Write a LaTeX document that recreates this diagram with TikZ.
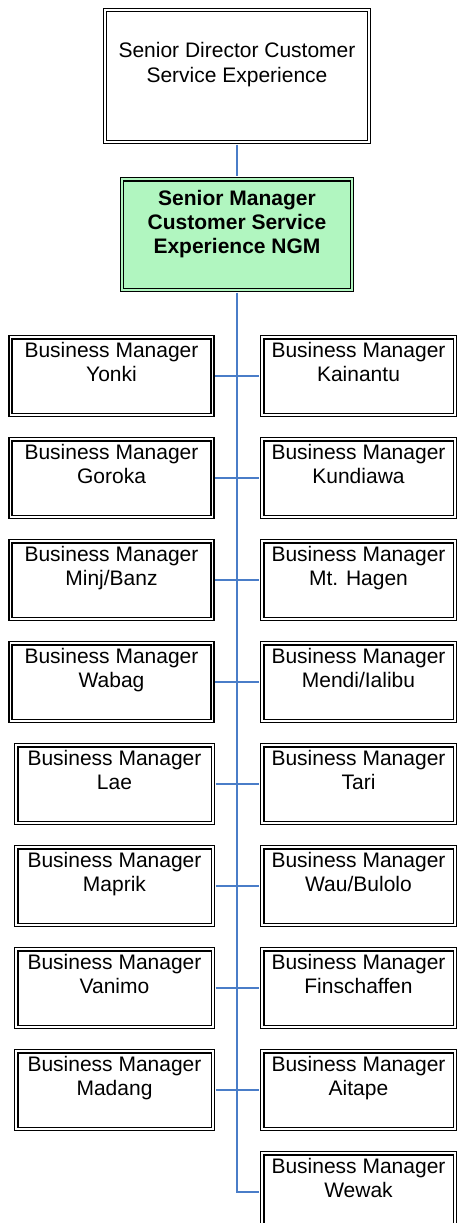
\documentclass[tikz,border=0pt]{standalone}
\usepackage{fontspec}
\setmainfont{Liberation Sans}
\usepackage{tikz}
\definecolor{linkblue}{HTML}{4A7DC8}
\definecolor{mint}{HTML}{B1F6C0}

\begin{document}
\begin{tikzpicture}[x=1pt, y=-1pt,
        font=\fontsize{21}{24.5}\selectfont,
        box/.style={draw, double, line width=1.3pt, double distance=1.8pt, align=center, inner ysep=0pt},
        bm/.style={box, minimum width=202pt, minimum height=77.4pt, text height=44.4pt, text depth=33pt},
        bmnarrow/.style={bm, minimum width=196.4pt},
        bmright/.style={bm, minimum width=192.4pt},
        link/.style={draw=linkblue, line width=1.5pt, shorten <=2.2pt, shorten >=2.2pt}]
        \useasboundingbox (0, 0) rectangle (458, 1223);

        \draw (237, 76) node[box, minimum width=263.5pt, minimum height=131.4pt, text height=71.7pt, text depth=59.7pt] (director) {Senior Director Customer\\Service Experience};
        \draw (237, 234.5) node[box, fill=mint, double=mint, minimum width=230.4pt, minimum height=110.4pt, text height=74pt, text depth=36.4pt, font=\fontsize{21}{24}\selectfont\bfseries] (ngm) {Senior Manager\\Customer Service\\Experience NGM};

        \draw (111.5, 376) node[bm] (yonki) {Business Manager\\Yonki};
        \draw (111.5, 478) node[bm] (goroka) {Business Manager\\Goroka};
        \draw (111.5, 580) node[bm] (minj) {Business Manager\\Minj/Banz};
        \draw (111.5, 682) node[bm] (wabag) {Business Manager\\Wabag};
        \draw (114.5, 784) node[bmnarrow] (lae) {Business Manager\\Lae};
        \draw (114.5, 886) node[bmnarrow] (maprik) {Business Manager\\Maprik};
        \draw (114.5, 988) node[bmnarrow] (vanimo) {Business Manager\\Vanimo};
        \draw (114.5, 1090) node[bmnarrow] (madang) {Business Manager\\Madang};

        \draw (358.5, 376) node[bmright] (kainantu) {Business Manager\\Kainantu};
        \draw (358.5, 478) node[bmright] (kundiawa) {Business Manager\\Kundiawa};
        \draw (358.5, 580) node[bmright] (hagen) {Business Manager\\Mt. Hagen};
        \draw (358.5, 682) node[bmright] (mendi) {Business Manager\\Mendi/Ialibu};
        \draw (358.5, 784) node[bmright] (tari) {Business Manager\\Tari};
        \draw (358.5, 886) node[bmright] (wau) {Business Manager\\Wau/Bulolo};
        \draw (358.5, 988) node[bmright] (finsch) {Business Manager\\Finschaffen};
        \draw (358.5, 1090) node[bmright] (aitape) {Business Manager\\Aitape};
        \draw (358.5, 1192) node[bmright] (wewak) {Business Manager\\Wewak};

        \draw[link] (director) -- (ngm);
        \draw[link, line width=2pt] (ngm) |- (wewak);
        \draw[link] (yonki) -- (kainantu);
        \draw[link] (goroka) -- (kundiawa);
        \draw[link] (minj) -- (hagen);
        \draw[link] (wabag) -- (mendi);
        \draw[link] (lae) -- (tari);
        \draw[link] (maprik) -- (wau);
        \draw[link] (vanimo) -- (finsch);
        \draw[link] (madang) -- (aitape);
    \end{tikzpicture}
\end{document}
